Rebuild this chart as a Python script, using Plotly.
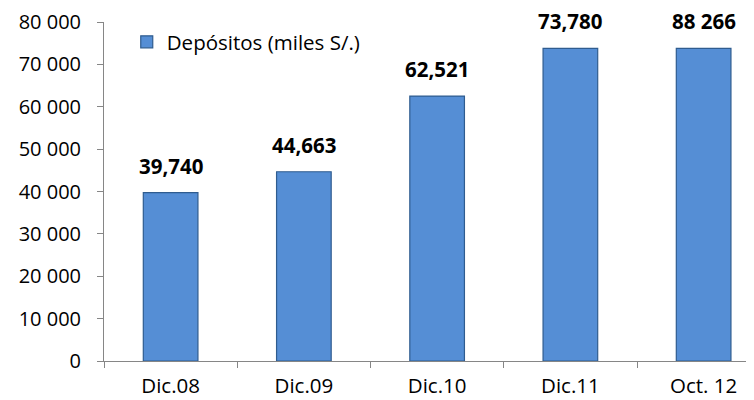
import plotly.graph_objects as go

categories = ["Dic.08", "Dic.09", "Dic.10", "Dic.11", "Oct. 12"]
values = [39740, 44663, 62521, 73780, 73780]
value_labels = ["39,740", "44,663", "62,521", "73,780", "88 266"]
series_name = "Depósitos (miles S/.)"
y_ticks = [0, 10000, 20000, 30000, 40000, 50000, 60000, 70000, 80000]
y_tick_labels = ["0", "10 000", "20 000", "30 000", "40 000", "50 000", "60 000", "70 000", "80 000"]

FONT = "Open Sans"

fig = go.Figure()
fig.add_trace(go.Bar(
    x=categories, y=values, name=series_name,
    width=0.41,
    marker=dict(color="#558ED5", line=dict(color="#2F5C8F", width=1.2)),
    showlegend=True,
))

for c, v, t in zip(categories, values, value_labels):
    fig.add_annotation(x=c, y=v, text="<b>%s</b>" % t, showarrow=False,
                       yanchor="bottom", yshift=11,
                       font=dict(family=FONT, size=20.5, color="#000000"))

fig.update_layout(
    width=754, height=400,
    margin=dict(l=96, r=8, t=14, b=47, autoexpand=False),
    paper_bgcolor="white", plot_bgcolor="white",
    font=dict(family=FONT, size=18, color="#000000"),
    showlegend=True,
    legend=dict(x=0.035, y=1.0, xanchor="left", yanchor="top",
                bgcolor="rgba(0,0,0,0)", font=dict(family=FONT, size=20.5),
                itemwidth=30),
    xaxis=dict(
        type="category", range=[-0.5, 4.378],
        showline=True, linecolor="#868686", linewidth=1,
        ticks="outside", tickson="boundaries", ticklen=6, tickcolor="#868686",
        showgrid=False, zeroline=False, automargin=False,
        tickfont=dict(family=FONT, size=20.5),
        ticklabelstandoff=6,
    ),
    yaxis=dict(
        range=[0, 80000],
        tickvals=y_ticks, ticktext=y_tick_labels,
        showline=True, linecolor="#868686", linewidth=1,
        ticks="outside", ticklen=6, tickcolor="#868686",
        showgrid=False, zeroline=False, automargin=False,
        tickfont=dict(family=FONT, size=20),
        ticklabelstandoff=12,
    ),
)

fig.write_html("out.html")
